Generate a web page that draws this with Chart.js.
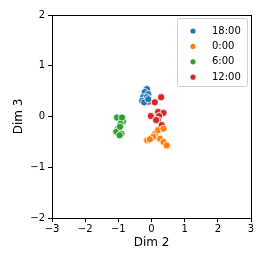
<!DOCTYPE html>
<html>
<head>
<meta charset="utf-8">
<script src="https://cdn.jsdelivr.net/npm/chart.js@4"></script>
<style>
  html, body { margin: 0; padding: 0; background: #fff; }
  #wrap { width: 266px; height: 266px; }
</style>
</head>
<body>
<div id="wrap"><canvas id="grafico" width="266" height="266"></canvas></div>
<script>
const series = ["18:00", "0:00", "6:00", "12:00"];
const colors = ["#1f77b4", "#ff7f0e", "#2ca02c", "#d62728"];

const x1800 = [-0.14, -0.2, -0.1, -0.25, -0.14, -0.28, -0.22, -0.1];
const y1800 = [0.54, 0.48, 0.44, 0.38, 0.38, 0.31, 0.28, 0.34];

const x0000 = [0.11, 0.05, -0.13, 0.2, 0.36, 0.26, 0.36, 0.46, -0.05];
const y0000 = [-0.34, -0.4, -0.47, -0.27, -0.24, -0.44, -0.5, -0.57, -0.45];

const x0600 = [-0.96, -0.86, -0.93, -1.01, -1.06, -0.91, -0.96, -1.04, -0.89, -0.95];
const y0600 = [-0.04, -0.1, -0.14, -0.24, -0.3, -0.34, -0.37, -0.02, -0.02, -0.2];

const x1200 = [-0.1, 0.1, 0.29, -0.02, 0.2, 0.36, 0.23, 0.19, 0.31, 0.14];
const y1200 = [0.29, 0.28, 0.38, 0.01, 0.09, 0.07, 0.01, -0.07, -0.17, -0.07];

const xTicks = [-3, -2, -1, 0, 1, 2, 3];
const yTicks = [-2, -1, 0, 1, 2];

function pontos(xs, ys) {
  return xs.map((x, i) => ({ x: x, y: ys[i] }));
}

function rotulo(v) {
  return v < 0 ? "\u2212" + Math.abs(v) : String(v);
}

const dadosX = [x1800, x0000, x0600, x1200];
const dadosY = [y1800, y0000, y0600, y1200];

const fonte = "'DejaVu Sans', sans-serif";

const molduraLegenda = {
  id: "molduraLegenda",
  afterDraw(chart) {
    const ctx = chart.ctx;
    const a = chart.chartArea;
    ctx.save();
    ctx.strokeStyle = "#000";
    ctx.lineWidth = 1;
    ctx.strokeRect(Math.round(a.left) + 0.5, Math.round(a.top) + 0.5,
      Math.round(a.right - a.left), Math.round(a.bottom - a.top));

    // legenda
    const lx = 177, ly = 18, lw = 70, lh = 68;
    ctx.fillStyle = "rgba(255,255,255,0.8)";
    ctx.strokeStyle = "#d0d0d0";
    ctx.beginPath();
    ctx.roundRect(lx + 0.5, ly + 0.5, lw, lh, 2);
    ctx.fill();
    ctx.stroke();
    ctx.font = "10px " + fonte;
    ctx.textBaseline = "middle";
    series.forEach((nome, i) => {
      const yy = 31 + i * 15.4;
      ctx.fillStyle = colors[i];
      ctx.beginPath();
      ctx.arc(193, yy, 2.6, 0, Math.PI * 2);
      ctx.fill();
      ctx.fillStyle = "#000";
      ctx.textAlign = "left";
      ctx.fillText(nome, 212, yy);
    });
    ctx.restore();
  }
};

new Chart(document.getElementById("grafico"), {
  type: "scatter",
  data: {
    datasets: series.map((nome, i) => ({
      label: nome,
      data: pontos(dadosX[i], dadosY[i]),
      backgroundColor: colors[i],
      borderColor: "#ffffff",
      borderWidth: 0.8,
      pointRadius: 3.6,
      pointHoverRadius: 3.6
    }))
  },
  options: {
    responsive: false,
    animation: false,
    layout: { padding: { left: 12, top: 15, right: 15, bottom: 16 } },
    plugins: {
      legend: { display: false },
      tooltip: { enabled: false }
    },
    scales: {
      x: {
        type: "linear",
        min: -3,
        max: 3,
        afterFit: (s) => { s.height = 32; },
        afterBuildTicks: (s) => { s.ticks = xTicks.map(v => ({ value: v })); },
        ticks: {
          color: "#000",
          font: { family: fonte, size: 10 },
          padding: 1,
          maxRotation: 0,
          callback: rotulo
        },
        grid: { drawOnChartArea: false, drawTicks: true, tickLength: 4, color: "#000" },
        border: { display: true, color: "#000" },
        title: {
          display: true,
          text: "Dim 2",
          color: "#000",
          font: { family: fonte, size: 12 },
          padding: { top: 0, bottom: 0 }
        }
      },
      y: {
        type: "linear",
        min: -2,
        max: 2,
        afterFit: (s) => { s.width = 40; },
        afterBuildTicks: (s) => { s.ticks = yTicks.map(v => ({ value: v })); },
        ticks: {
          color: "#000",
          font: { family: fonte, size: 10 },
          padding: 3,
          callback: rotulo
        },
        grid: { drawOnChartArea: false, drawTicks: true, tickLength: 4, color: "#000" },
        border: { display: true, color: "#000" },
        title: {
          display: true,
          text: "Dim 3",
          color: "#000",
          font: { family: fonte, size: 12 },
          padding: { top: 0, bottom: 0 }
        }
      }
    }
  },
  plugins: [molduraLegenda]
});
</script>
</body>
</html>
